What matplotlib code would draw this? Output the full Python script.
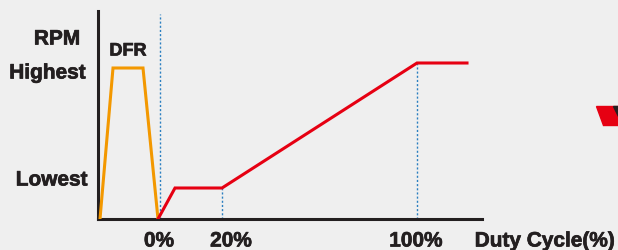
import matplotlib
matplotlib.use("Agg")
import matplotlib.pyplot as plt
import matplotlib.patheffects as pe
from matplotlib.patches import Polygon

# Positions along the duty-cycle axis (arbitrary units, not to scale)
dfr_x = [2, 15, 45, 60]
dfr_y = [0, 151, 151, 0]
rpm_x = [60, 77, 124, 319, 369]
rpm_y = [0, 31, 31, 156, 156]

# dotted guide lines: x position and the height they reach
guide_x = [62, 124, 319]
guide_top = [205, 31, 156]

tick_pos = [61, 133, 318]
tick_labels = ["0%", "20%", "100%"]

bg = "#efefef"
ink = "#231f20"
red = "#e60012"
orange = "#f39800"
blue = "#2b7fc1"

plt.rcParams['font.family'] = ['Liberation Sans', 'DejaVu Sans']
plt.rcParams['font.weight'] = 'bold'

fig = plt.figure(figsize=(6.18, 2.51), dpi=100, facecolor=bg)
ax = fig.add_axes([98 / 618, 31 / 251, 384 / 618, 208 / 251])
ax.set_facecolor(bg)
ax.set_xlim(0, 384)
ax.set_ylim(0, 208)

for s in ["top", "right"]:
    ax.spines[s].set_visible(False)
for s in ["left", "bottom"]:
    ax.spines[s].set_color(ink)
    ax.spines[s].set_linewidth(2.2)
ax.set_xticks([])
ax.set_yticks([])

for gx, gt in zip(guide_x, guide_top):
    ax.plot([gx, gx], [0, gt], color=blue, lw=1.0, ls=(0, (1.5, 1.5)), zorder=1)

ax.plot(dfr_x, dfr_y, color=orange, lw=2.2, solid_joinstyle="miter", zorder=3)
ax.plot(rpm_x, rpm_y, color=red, lw=2.2, solid_joinstyle="miter", zorder=3)

# slightly heavier text, like the original artwork
heavy = [pe.withStroke(linewidth=0.5, foreground=ink)]
txt = dict(color=ink, fontweight="bold", clip_on=False, path_effects=heavy)

ax.text(30, 168, "DFR", ha="center", va="center", fontsize=13, **txt)

# y labels (outside the axes)
ax.text(-41, 180, "RPM", ha="center", va="center", fontsize=15, **txt)
ax.text(-12, 146, "Highest", ha="right", va="center", fontsize=15, **txt)
ax.text(-10, 39, "Lowest", ha="right", va="center", fontsize=15, **txt)

for p, lab in zip(tick_pos, tick_labels):
    ax.text(p, -22, lab, ha="center", va="center", fontsize=15, **txt)
ax.text(447, -22, "Duty Cycle(%)", ha="center", va="center", fontsize=15, **txt)

# partial logo at the right edge
W, H = 618, 251
fig.patches.append(Polygon([(596 / W, 1 - 107 / H), (618 / W, 1 - 107 / H), (618 / W, 1 - 126 / H), (603 / W, 1 - 126 / H)],
                           closed=True, transform=fig.transFigure, color=red))
fig.patches.append(Polygon([(613 / W, 1 - 107 / H), (618 / W, 1 - 107 / H), (618 / W, 1 - 117 / H)],
                           closed=True, transform=fig.transFigure, color=ink))

fig.savefig("out.png", dpi=100, facecolor=bg)
